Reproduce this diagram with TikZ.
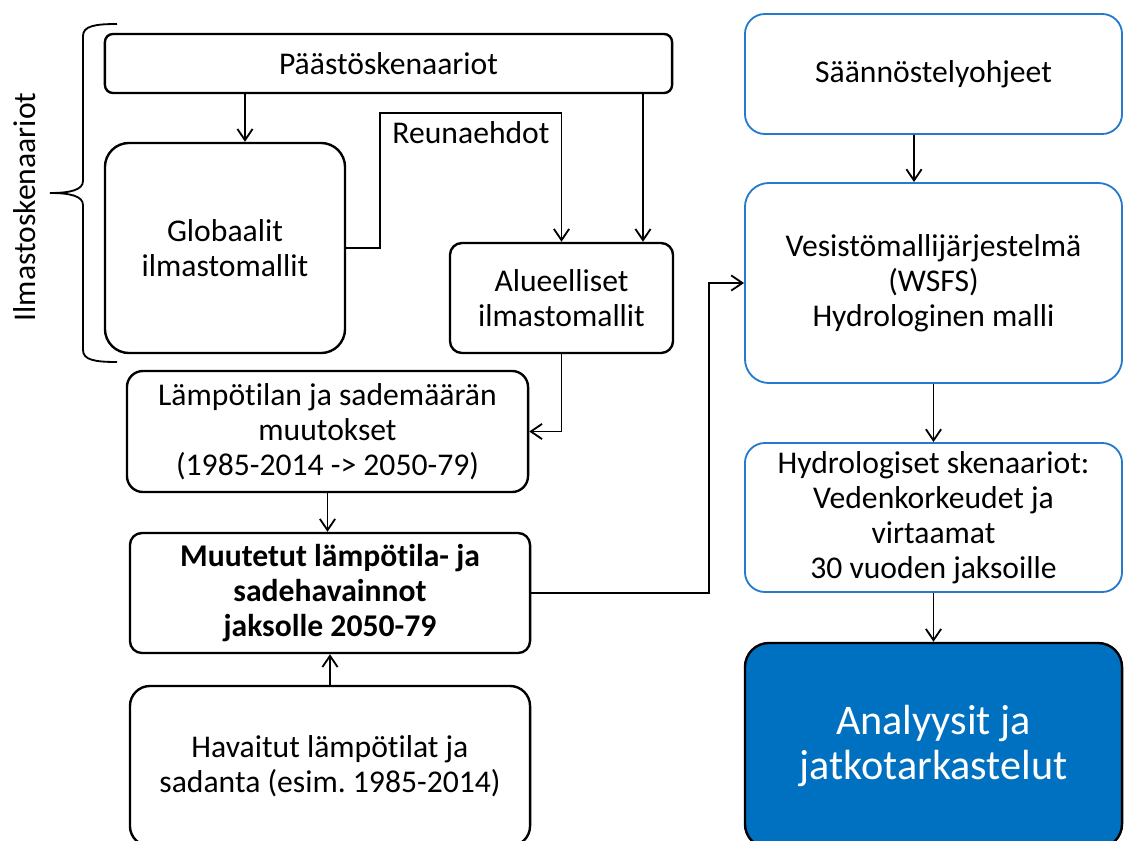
\documentclass[tikz,border=0pt]{standalone}
\usepackage{fontspec}
\setmainfont[Ligatures=NoCommon]{Carlito}
\frenchspacing
\usetikzlibrary{arrows.meta}
\definecolor{syke}{RGB}{0,112,192}
\definecolor{sykeline}{RGB}{36,122,204}
\tikzset{
	box/.style={draw, line width=1.7pt, align=center, inner sep=0pt, font=\fontsize{22.5}{25}\selectfont},
	bluebox/.style={box, draw=sykeline, line width=1.3pt},
	conn/.style={line width=1.3pt},
	arr/.style={conn, -{Straight Barb[length=0.28cm,width=0.38cm,line width=1.3pt]}},
}
\begin{document}
\begin{tikzpicture}[x=0.025cm, y=-0.025cm]
		\clip (0,0) rectangle (1124,841);
		
		% ilmastopuoli
		\node[box, rounded corners=0.2cm, minimum width=14.175cm, minimum height=1.475cm] (paa) at (388.5,63.5) {Päästöskenaariot};
		\node[box, rounded corners=0.6cm, minimum width=6cm, minimum height=5.25cm] (glob) at (225,248) {Globaalit\\ilmastomallit};
		\node[box, rounded corners=0.3cm, minimum width=5.575cm, minimum height=2.75cm] (alue) at (561.5,298) {Alueelliset\\ilmastomallit};
		\node[box, rounded corners=0.4cm, minimum width=10.025cm, minimum height=3.025cm] (lamp) at (327.5,431.5) {Lämpötilan ja sademäärän\\muutokset\\(1985-2014 -> 2050-79)};
		\node[box, rounded corners=0.3cm, minimum width=10cm, minimum height=3cm, font=\fontsize{22.5}{25}\selectfont\bfseries] (muut) at (330,593) {Muutetut lämpötila- ja\\sadehavainnot\\jaksolle 2050-79};
		\node[box, rounded corners=0.5cm, minimum width=10cm, minimum height=4cm] (hav) at (330,766) {Havaitut lämpötilat ja\\sadanta (esim. 1985-2014)};
		\node[font=\fontsize{22.5}{25}\selectfont] (reuna) at (471,133) {Reunaehdot};
		\node[rotate=90, font=\fontsize{22.5}{25}\selectfont] (ilm) at (25,207) {Ilmastoskenaariot};
		
		% vesistöpuoli
		\node[bluebox, rounded corners=0.5cm, minimum width=9.425cm, minimum height=3cm] (saan) at (933.5,74) {Säännöstelyohjeet};
		\node[bluebox, rounded corners=0.6cm, minimum width=9.425cm, minimum height=5cm] (ves) at (933.5,283) {Vesistömallijärjestelmä\\(WSFS)\\Hydrologinen malli};
		\node[bluebox, rounded corners=0.5cm, minimum width=9.425cm, minimum height=3.725cm] (hyd) at (933.5,517.5) {Hydrologiset skenaariot:\\Vedenkorkeudet ja\\virtaamat\\30 vuoden jaksoille};
		\node[box, rounded corners=0.6cm, fill=syke, text=white, minimum width=9.425cm, minimum height=5.125cm, font=\fontsize{30}{32}\selectfont] (ana) at (933.5,745.5) {Analyysit ja\\jatkotarkastelut};
		
		% aaltosulje
		\draw[conn] (117,24) .. controls (95,24) and (83,26) .. (83,36) -- (83,181)
			.. controls (83,190) and (70,193) .. (50,193)
			.. controls (70,193) and (83,196) .. (83,205) -- (83,350)
			.. controls (83,360) and (95,362) .. (117,362);
		
		\draw[arr] (paa.south -| 245,0) -- (glob.north -| 245,0);
		\draw[arr] (paa.south -| 643,0) -- (alue.north -| 643,0);
		\draw[arr] (glob.east) -| (380,113) -| (alue.north);
		\draw[arr] (alue.south) |- (lamp.east);
		\draw[arr] (lamp.south) -- (lamp.south |- muut.north);
		\draw[arr] (hav.north) -- (muut.south);
		\draw[arr] (muut.east) -- ++(178,0) |- (ves.west);
		\draw[arr] (saan.south -| 914,0) -- (ves.north -| 914,0);
		\draw[arr] (ves.south) -- (hyd.north);
		\draw[arr] (hyd.south) -- (ana.north);
	\end{tikzpicture}
\end{document}
